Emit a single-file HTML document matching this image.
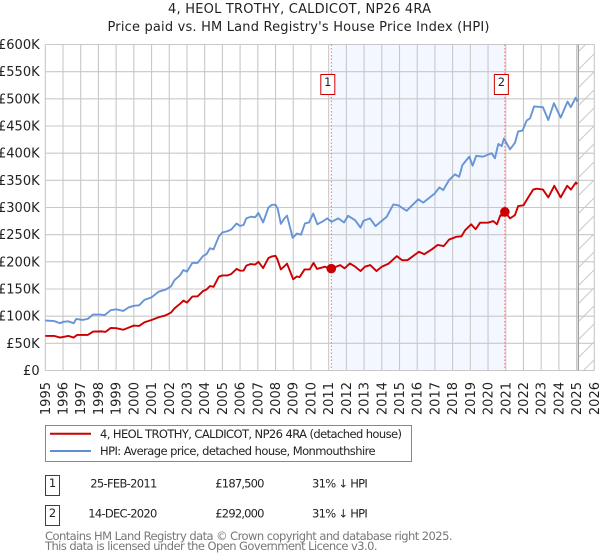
<!DOCTYPE html>
<html lang="en">
<head>
<meta charset="utf-8">
<title>4, HEOL TROTHY, CALDICOT, NP26 4RA</title>
<style>
html,body{margin:0;padding:0;background:#fff;width:600px;height:560px;overflow:hidden}
svg{display:block;font-family:"DejaVu Sans","Liberation Sans",sans-serif}
</style>
</head>
<body>
<svg id="chart" xmlns="http://www.w3.org/2000/svg" width="600" height="560" viewBox="0 0 600 560">
  <defs>
    <pattern id="hatch" patternUnits="userSpaceOnUse" width="18" height="18">
      <line x1="-1" y1="19" x2="19" y2="-1" stroke="#c8c8c8" stroke-width="1"/>
    </pattern>
  </defs>
  <text x="168" y="13" font-size="13" fill="#222" textLength="263" lengthAdjust="spacing">4, HEOL TROTHY, CALDICOT, NP26 4RA</text>
  <text x="107.5" y="31" font-size="13" fill="#222" textLength="382" lengthAdjust="spacing">Price paid vs. HM Land Registry's House Price Index (HPI)</text>
  <g id="plot"></g>

  <g>
    <rect x="45.5" y="425.5" width="366" height="36" fill="#fff" stroke="#888" stroke-width="1"/>
    <line x1="50" y1="433.7" x2="91" y2="433.7" stroke="#cc0000" stroke-width="2"/>
    <text x="100" y="438" font-size="11.5" fill="#222" textLength="302" lengthAdjust="spacing">4, HEOL TROTHY, CALDICOT, NP26 4RA (detached house)</text>
    <line x1="50" y1="451" x2="91" y2="451" stroke="#5f8fd3" stroke-width="2"/>
    <text x="100" y="455" font-size="11.5" fill="#222" textLength="275.6" lengthAdjust="spacing">HPI: Average price, detached house, Monmouthshire</text>
  </g>

  <g>
    <rect x="45.5" y="475.5" width="14" height="20" fill="#fff" stroke="#cc0000" stroke-width="1"/>
    <text x="52.5" y="487" font-size="11.5" fill="#222" text-anchor="middle">1</text>
    <text x="90.3" y="487.3" font-size="11.5" fill="#222" textLength="67" lengthAdjust="spacing">25-FEB-2011</text>
    <text x="215.3" y="487.3" font-size="11.5" fill="#222" textLength="49.2" lengthAdjust="spacing">£187,500</text>
    <text x="312" y="487.3" font-size="11.5" fill="#222" textLength="55.8" lengthAdjust="spacing">31% ↓ HPI</text>
  </g>
  <g>
    <rect x="45.5" y="505.5" width="14" height="20" fill="#fff" stroke="#cc0000" stroke-width="1"/>
    <text x="52.5" y="517" font-size="11.5" fill="#222" text-anchor="middle">2</text>
    <text x="88.3" y="517.3" font-size="11.5" fill="#222" textLength="69" lengthAdjust="spacing">14-DEC-2020</text>
    <text x="215.3" y="517.3" font-size="11.5" fill="#222" textLength="49.2" lengthAdjust="spacing">£292,000</text>
    <text x="312" y="517.3" font-size="11.5" fill="#222" textLength="55.8" lengthAdjust="spacing">31% ↓ HPI</text>
  </g>

  <text x="45" y="540" font-size="11.5" fill="#777" textLength="407.5" lengthAdjust="spacing">Contains HM Land Registry data © Crown copyright and database right 2025.</text>
  <text x="45" y="550" font-size="11.5" fill="#777" textLength="332.5" lengthAdjust="spacing">This data is licensed under the Open Government Licence v3.0.</text>
</svg>
<script>
const yearTicks = [1995,1996,1997,1998,1999,2000,2001,2002,2003,2004,2005,2006,2007,2008,2009,2010,2011,2012,2013,2014,2015,2016,2017,2018,2019,2020,2021,2022,2023,2024,2025,2026];
const valueTicks = [0,50,100,150,200,250,300,350,400,450,500,550,600];
const valueTickLabels = ["£0","£50K","£100K","£150K","£200K","£250K","£300K","£350K","£400K","£450K","£500K","£550K","£600K"];

const hpiDates = [1995,1995.5,1995.83,1996,1996.3,1996.6,1996.75,1997.1,1997.4,1997.7,1998.1,1998.35,1998.7,1999,1999.4,1999.7,2000,2000.3,2000.6,2001,2001.4,2001.8,2002.1,2002.3,2002.6,2002.8,2003,2003.3,2003.6,2003.9,2004.1,2004.3,2004.5,2004.8,2005,2005.3,2005.5,2005.8,2006,2006.2,2006.35,2006.6,2006.85,2007.03,2007.3,2007.6,2007.8,2008,2008.12,2008.3,2008.5,2008.65,2008.97,2009.2,2009.44,2009.66,2009.89,2010.13,2010.36,2010.7,2010.92,2011.17,2011.54,2011.87,2012.1,2012.49,2012.8,2012.96,2013.33,2013.65,2013.93,2014.28,2014.65,2014.93,2015.4,2016.06,2016.34,2017,2017.25,2017.47,2017.8,2018.13,2018.37,2018.55,2018.94,2019.13,2019.33,2019.73,2020.2,2020.39,2020.58,2020.77,2020.9,2021.24,2021.52,2021.7,2021.95,2022.18,2022.37,2022.6,2023.1,2023.4,2023.72,2024.1,2024.49,2024.67,2024.95,2025.06];
const hpiValues = [92,91,87,89.5,90.5,87,95,93,95,103,103,102,111,112.7,109.6,116,119,120,130,134.7,145,149,155,166.5,175,185,182,198,198,210.6,214,225,223,247,254,256.6,259.6,270.6,266,268,280,283,282,290,272.5,300,305,305,298,270,280,285,244,252,250,270.6,272.5,289,269,275,280,273.6,280,272.5,284.7,276.7,263,275.4,280,265.7,273.6,283,305.7,304,294,315,309,326,337,332,350.6,361,356.6,378,393.6,377,395,393.6,400,390.6,417,413,427,407,419,440,441.6,460,464,486,484.6,461,492,465.5,495,484.6,502,495];

const paidDates = [1995,1995.5,1995.83,1996.3,1996.6,1996.8,1997.4,1997.7,1998.2,1998.4,1998.7,1999,1999.2,1999.4,2000,2000.3,2000.6,2001,2001.4,2001.8,2002.1,2002.3,2002.6,2002.8,2003,2003.3,2003.6,2003.9,2004.1,2004.3,2004.5,2004.8,2005,2005.3,2005.5,2005.8,2006,2006.2,2006.35,2006.6,2006.85,2007.03,2007.3,2007.6,2007.8,2008,2008.1,2008.3,2008.5,2008.65,2009,2009.2,2009.36,2009.64,2009.93,2010.15,2010.34,2010.8,2011.03,2011.15,2011.65,2011.9,2012.2,2012.5,2012.8,2013.05,2013.35,2013.7,2014,2014.4,2014.85,2015.15,2015.45,2016.1,2016.4,2016.85,2017.15,2017.5,2017.8,2018.2,2018.5,2018.7,2019.05,2019.3,2019.55,2020,2020.3,2020.5,2020.7,2020.85,2020.95,2021.24,2021.52,2021.7,2022,2022.27,2022.55,2022.74,2023.1,2023.4,2023.74,2024.1,2024.47,2024.68,2024.96,2025.04];
const paidValues = [63.7,63.7,60.6,63.7,60.6,65.5,65.5,71.6,72,71,78.4,77.8,76.5,75,82.7,82,88.8,93,98,101.6,106.6,114.5,122.5,128.6,125,136,136.5,146,149,155.5,154,172.7,175,175,177.6,187,183.7,184,193,196,195,200,188.6,207,210,211,205,186,192,196.6,168,173,172,186,186,198,187,191,187,187.5,194,188,197,191,183,191,194,183,191,197,210.6,203,203,218.6,214,223.5,231,229,241,246,247,258,269,260,272,272,275,269,286,285,292,280,286,302.6,304,318.6,333,334.6,333,318.6,340,318.6,340,333,346,343];

const saleDates = [2011.15,2020.95];
const salePrices = [187.5,292];
const saleNumbers = ["1","2"];

const SVGNS = "http://www.w3.org/2000/svg";
const plot = document.getElementById("plot");
const plotLeft = 45.3, plotRight = 594.3, plotTop = 44.5, plotBottom = 370.5;
const forecastStart = 2025.1;

function xScale(year){ return plotLeft + (year - 1995) * (plotRight - plotLeft) / 31; }
function yScale(value){ return plotBottom - value * (plotBottom - plotTop) / 600; }
function add(tag, attrs, parent){
  const el = document.createElementNS(SVGNS, tag);
  for (const k in attrs) el.setAttribute(k, attrs[k]);
  (parent || plot).appendChild(el);
  return el;
}

const band = add("rect", {x: xScale(saleDates[0]), y: plotTop, width: xScale(saleDates[1]) - xScale(saleDates[0]), height: plotBottom - plotTop, fill: "#f3f7ff"});



const hatchRect = add("rect", {x: xScale(forecastStart), y: plotTop, width: plotRight - xScale(forecastStart), height: plotBottom - plotTop, fill: "url(#hatch)"});



valueTicks.forEach(function(v, i){
  const line = add("line", {x1: plotLeft, x2: plotRight, y1: yScale(v), y2: yScale(v), stroke: "#c8c8c8", "stroke-width": 1.1});
  
  
  const label = add("text", {x: 39.6, y: yScale(v) + 4.5, "font-size": 13, fill: "#222", "text-anchor": "end"});
  label.textContent = valueTickLabels[i];
  
  
});

yearTicks.forEach(function(yr){
  const line = add("line", {x1: xScale(yr), x2: xScale(yr), y1: plotTop, y2: plotBottom, stroke: "#c8c8c8", "stroke-width": 1.1});
  
  
  const px = xScale(yr) + 4.5;
  const label = add("text", {x: px, y: 382, "font-size": 13, fill: "#222", "text-anchor": "end", transform: "rotate(-90 " + px + " 382)"});
  label.textContent = String(yr);
  
  
});

const latestLine = add("line", {x1: xScale(forecastStart), x2: xScale(forecastStart), y1: plotTop, y2: plotBottom, stroke: "#a0a0a0", "stroke-width": 1.3});



saleDates.forEach(function(d){
  const line = add("line", {x1: xScale(d), x2: xScale(d), y1: plotTop, y2: plotBottom, stroke: "#ff6a6a", "stroke-width": 1, "stroke-dasharray": "1.5 2"});
  
  
});

function pointsOf(dates, values){
  return dates.map(function(d, i){ return xScale(d).toFixed(2) + "," + yScale(values[i]).toFixed(2); }).join(" ");
}
const hpiLine = add("polyline", {points: pointsOf(hpiDates, hpiValues), fill: "none", stroke: "#5f8fd3", "stroke-width": 1.9, "stroke-linejoin": "round", "stroke-opacity": 0.95});


const paidLine = add("polyline", {points: pointsOf(paidDates, paidValues), fill: "none", stroke: "#cc0000", "stroke-width": 1.9, "stroke-linejoin": "round"});



saleDates.forEach(function(d, i){
  const dot = add("circle", {cx: xScale(d), cy: yScale(salePrices[i]), r: 4.8, fill: "#cc0000"});
  
  
  const box = add("rect", {x: xScale(d) - 10.5, y: 74.5, width: 14, height: 20, fill: "#fff", stroke: "#cc0000", "stroke-width": 1});
  
  
  const num = add("text", {x: xScale(d) - 3.5, y: 86, "font-size": 11.5, fill: "#222", "text-anchor": "middle"});
  num.textContent = saleNumbers[i];
  
  
});
</script>
</body>
</html>
